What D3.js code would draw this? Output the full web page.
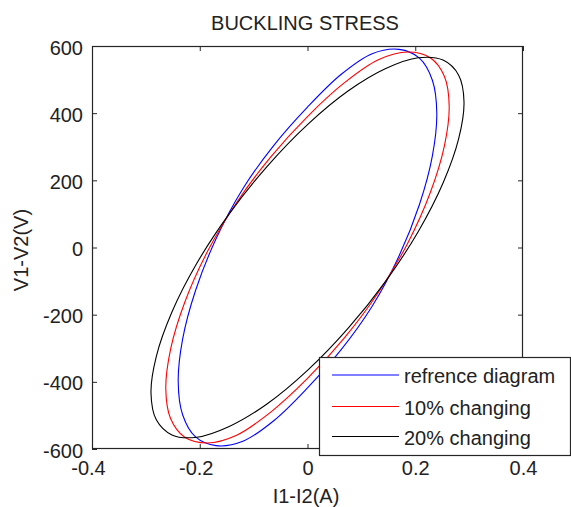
<!DOCTYPE html>
<html>
<head>
<meta charset="utf-8">
<script src="https://cdn.jsdelivr.net/npm/d3@7"></script>
<style>
  html, body { margin: 0; padding: 0; background: #fff; }
  svg { display: block; }
  text { font-family: "Liberation Sans", Arial, Helvetica, sans-serif; fill: #222; }
</style>
</head>
<body>
<svg id="chart" width="571" height="507"></svg>
<script>
// ---- data ----
const titleText = "BUCKLING STRESS";
const xLabelText = "I1-I2(A)";
const yLabelText = "V1-V2(V)";

const xTicks = [-0.4, -0.2, 0, 0.2, 0.4];
const xTickLabels = ["-0.4", "-0.2", "0", "0.2", "0.4"];
const yTicks = [-600, -400, -200, 0, 200, 400, 600];
const yTickLabels = ["-600", "-400", "-200", "0", "200", "400", "600"];

const seriesNames = ["refrence diagram", "10% changing", "20% changing"];
const seriesColors = ["#0000ff", "#ff0000", "#000000"];

// reference diagram (blue)
const refX = [0.240, 0.2318, 0.2078, 0.1697, 0.120, 0.0621, 0, -0.0621, -0.120, -0.1697, -0.2078, -0.2318,
              -0.240, -0.2318, -0.2078, -0.1697, -0.120, -0.0621, 0, 0.0621, 0.120, 0.1697, 0.2078, 0.2318];
const refY = [399, 498, 564, 590, 577, 515, 418, 305, 175, 26, -128, -273,
              -399, -498, -564, -590, -577, -515, -418, -305, -175, -26, 128, 273];

// 10% changing (red)
const c10X = [0.263, 0.2540, 0.2278, 0.1860, 0.1315, 0.0681, 0, -0.0681, -0.1315, -0.1860, -0.2278, -0.2540,
              -0.263, -0.2540, -0.2278, -0.1860, -0.1315, -0.0681, 0, 0.0681, 0.1315, 0.1860, 0.2278, 0.2540];
const c10Y = [421, 510, 565, 582, 559, 490, 390, 270, 134, -13, -163, -302,
              -421, -510, -565, -582, -559, -490, -390, -270, -134, 13, 163, 302];

// 20% changing (black)
const c20X = [0.2905, 0.2806, 0.2516, 0.2054, 0.1453, 0.0752, 0, -0.0752, -0.1453, -0.2054, -0.2516, -0.2806,
              -0.2905, -0.2806, -0.2516, -0.2054, -0.1453, -0.0752, 0, 0.0752, 0.1453, 0.2054, 0.2516, 0.2806];
const c20Y = [433, 513, 558, 565, 533, 466, 366, 241, 100, -47, -192, -324,
              -433, -513, -558, -565, -533, -466, -366, -241, -100, 47, 192, 324];

const seriesX = [refX, c10X, c20X];
const seriesY = [refY, c10Y, c20Y];

// ---- layout ----
const plot = { left: 92, top: 46, right: 523, bottom: 449 };
const svg = d3.select("#chart");

const x = d3.scaleLinear().domain([-0.4, 0.4]).range([plot.left, plot.right]);
const y = d3.scaleLinear().domain([-600, 600]).range([plot.bottom, plot.top]);

// curves
const line = d3.line()
  .x(d => x(d[0]))
  .y(d => y(d[1]))
  .curve(d3.curveCatmullRomClosed.alpha(0.5));

seriesX.forEach((xs, i) => {
  const pts = xs.map((v, j) => [v, seriesY[i][j]]);
  svg.append("path")
    .attr("d", line(pts))
    .attr("fill", "none")
    .attr("stroke", seriesColors[i])
    .attr("stroke-width", 1.1);
});

// axes (ticks inside, box on)
const fontSize = 20;
const xFmt = (d) => xTickLabels[xTicks.indexOf(d)];
const yFmt = (d) => yTickLabels[yTicks.indexOf(d)];

const gB = svg.append("g").attr("transform", `translate(0,${plot.bottom})`)
  .call(d3.axisBottom(x).tickValues(xTicks).tickFormat(xFmt).tickSizeInner(-5).tickSizeOuter(0).tickPadding(12));
const gT = svg.append("g").attr("transform", `translate(0,${plot.top})`)
  .call(d3.axisTop(x).tickValues(xTicks).tickFormat("").tickSizeInner(-5).tickSizeOuter(0));
const gL = svg.append("g").attr("transform", `translate(${plot.left},0)`)
  .call(d3.axisLeft(y).tickValues(yTicks).tickFormat(yFmt).tickSizeInner(-5).tickSizeOuter(0).tickPadding(9));
const gR = svg.append("g").attr("transform", `translate(${plot.right},0)`)
  .call(d3.axisRight(y).tickValues(yTicks).tickFormat("").tickSizeInner(-5).tickSizeOuter(0));

[gB, gT, gL, gR].forEach(g => {
  g.select(".domain").remove();
  g.selectAll(".tick line").attr("stroke", "#262626").attr("stroke-width", 1);
  g.selectAll("text")
    .attr("font-size", fontSize)
    .attr("font-family", "Liberation Sans, Arial, sans-serif")
    .attr("fill", "#222");
});
gB.selectAll(".tick text").attr("dx", d => d < 0 ? -4 : 0);
gL.selectAll(".tick text").attr("dy", "0.4em");

// box
svg.append("rect")
  .attr("x", plot.left + 0.5).attr("y", plot.top + 0.5)
  .attr("width", plot.right - plot.left - 1).attr("height", plot.bottom - plot.top - 1)
  .attr("fill", "none").attr("stroke", "#262626").attr("stroke-width", 1.2);

// title & labels
svg.append("text").attr("x", 305).attr("y", 30).attr("text-anchor", "middle")
  .attr("font-size", fontSize).text(titleText);
svg.append("text").attr("x", 306).attr("y", 503).attr("text-anchor", "middle")
  .attr("font-size", fontSize).text(xLabelText);
svg.append("text").attr("transform", "translate(28,250) rotate(-90)").attr("text-anchor", "middle")
  .attr("font-size", fontSize).text(yLabelText);

// legend
const lg = svg.append("g");
lg.append("rect").attr("x", 319.5).attr("y", 357.5).attr("width", 251).attr("height", 98)
  .attr("fill", "#fff").attr("stroke", "#262626").attr("stroke-width", 1.2);
const rowY = [375, 406.5, 436.5];
seriesNames.forEach((name, i) => {
  lg.append("line").attr("x1", 332).attr("x2", 399).attr("y1", rowY[i]).attr("y2", rowY[i])
    .attr("stroke", seriesColors[i]).attr("stroke-width", 1.1);
  lg.append("text").attr("x", 404).attr("y", rowY[i] + 8).attr("font-size", fontSize).text(name);
});
</script>
</body>
</html>
